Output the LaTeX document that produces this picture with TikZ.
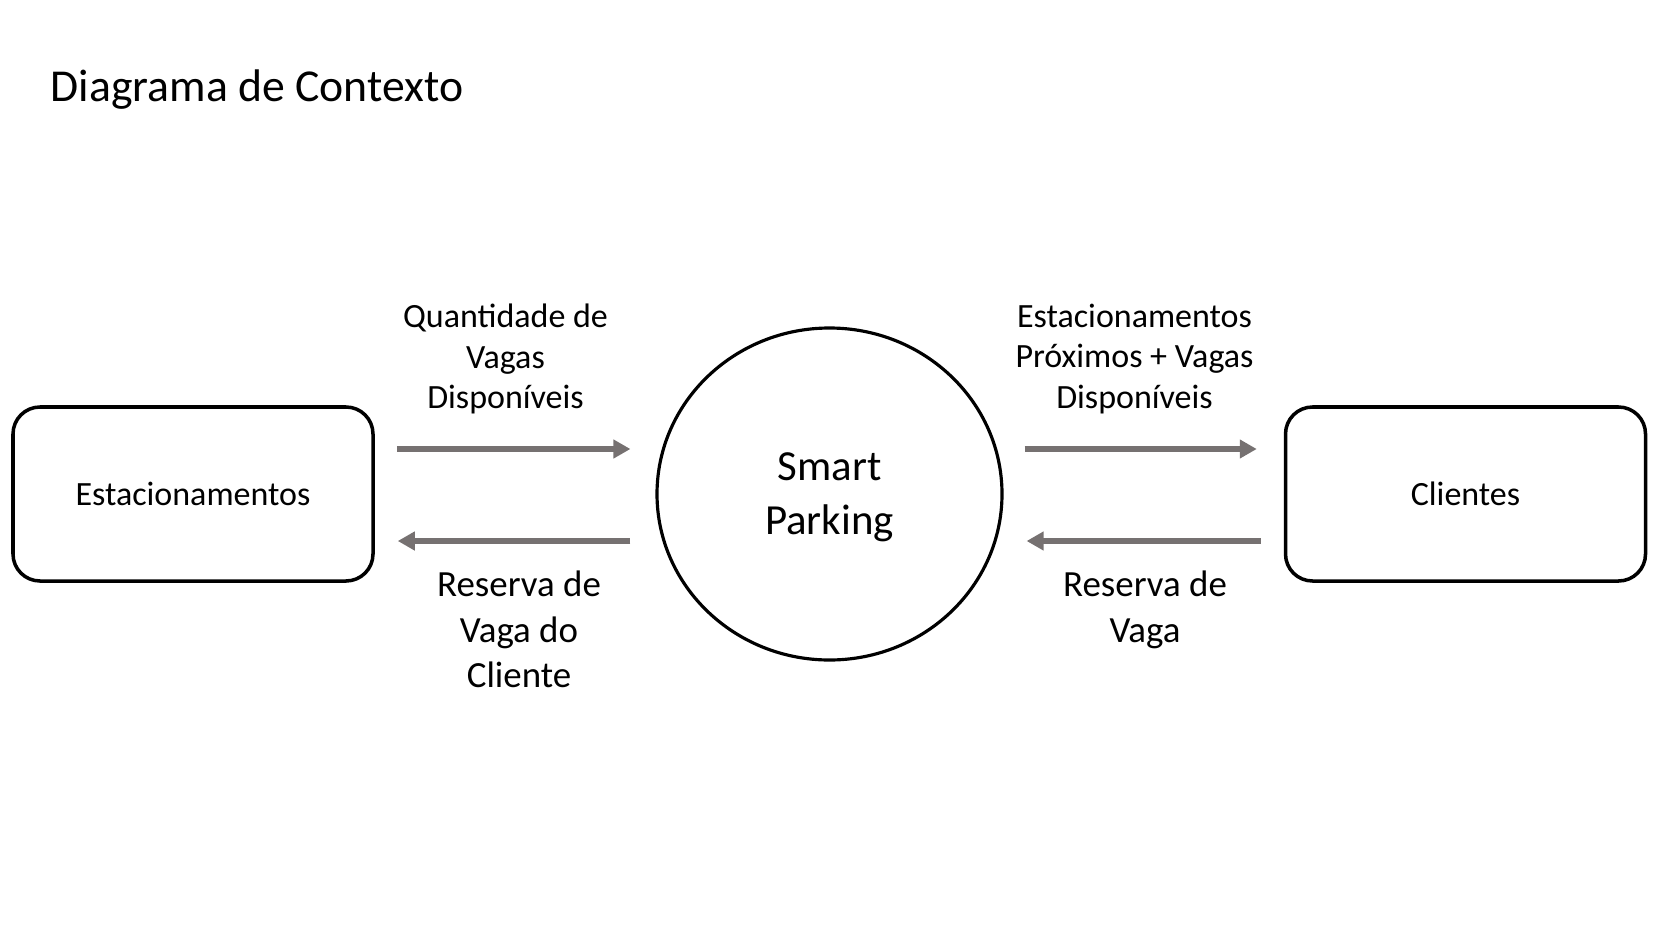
\documentclass[tikz,border=0pt]{standalone}
\usepackage{fontspec}
\setmainfont{Carlito}
\usepackage{xcolor}
\usepackage{tikz}
\usetikzlibrary{arrows.meta, shapes.geometric}
\definecolor{flowgray}{HTML}{767171}

\begin{document}
\begin{tikzpicture}[
    entity/.style={rectangle, rounded corners=0.27cm, draw, line width=1pt, minimum width=3.6cm, minimum height=1.74cm, font=\fontsize{9.67}{11.5}\selectfont},
    process/.style={ellipse, draw, line width=0.9pt, minimum width=3.45cm, minimum height=3.32cm, inner sep=0pt, text depth=0pt, align=center, font=\fontsize{12.2}{15.4}\selectfont},
    flow/.style={flowgray, line width=1.7pt, -{Triangle[length=0.17cm, width=0.18cm]}},
    upperlabel/.style={align=center, inner sep=0pt, font=\fontsize{9.67}{11.5}\selectfont},
    lowerlabel/.style={align=center, inner sep=0pt, font=\fontsize{10.5}{13}\selectfont}
  ]
  \useasboundingbox (0,0) rectangle (16.64,-9.47);

  \node[anchor=base west, inner sep=0pt, font=\fontsize{13}{15}\selectfont] (title) at (0.50,-1.02) {Diagrama de Contexto};

  \node[entity] (estac) at (1.93,-4.94) {Estacionamentos};
  \node[process] (smart) at (8.295,-4.94) {Smart\\Parking};
  \node[entity] (clientes) at (14.655,-4.94) {Clientes};

  \node[upperlabel] (qtdvagas) at (5.055,-3.59) {Quantidade de\\Vagas\\Disponíveis};
  \node[lowerlabel] (resvagacli) at (5.19,-6.295) {Reserva de\\Vaga do\\Cliente};
  \node[upperlabel] (estproximos) at (11.345,-3.59) {Estacionamentos\\Próximos + Vagas\\Disponíveis};
  \node[lowerlabel] (resvaga) at (11.45,-6.1) {Reserva de\\Vaga};

  \draw[flow, shorten <=0.22cm, shorten >=0.25cm] ([yshift=0.45cm]estac.east) -- ([yshift=0.45cm]estac.east -| smart.west);
  \draw[flow, shorten <=0.25cm, shorten >=0.23cm] ([yshift=-0.47cm]estac.east -| smart.west) -- ([yshift=-0.47cm]estac.east);
  \draw[flow, shorten <=0.21cm, shorten >=0.27cm] ([yshift=0.45cm]clientes.west -| smart.east) -- ([yshift=0.45cm]clientes.west);
  \draw[flow, shorten <=0.23cm, shorten >=0.23cm] ([yshift=-0.47cm]clientes.west) -- ([yshift=-0.47cm]clientes.west -| smart.east);
\end{tikzpicture}
\end{document}
